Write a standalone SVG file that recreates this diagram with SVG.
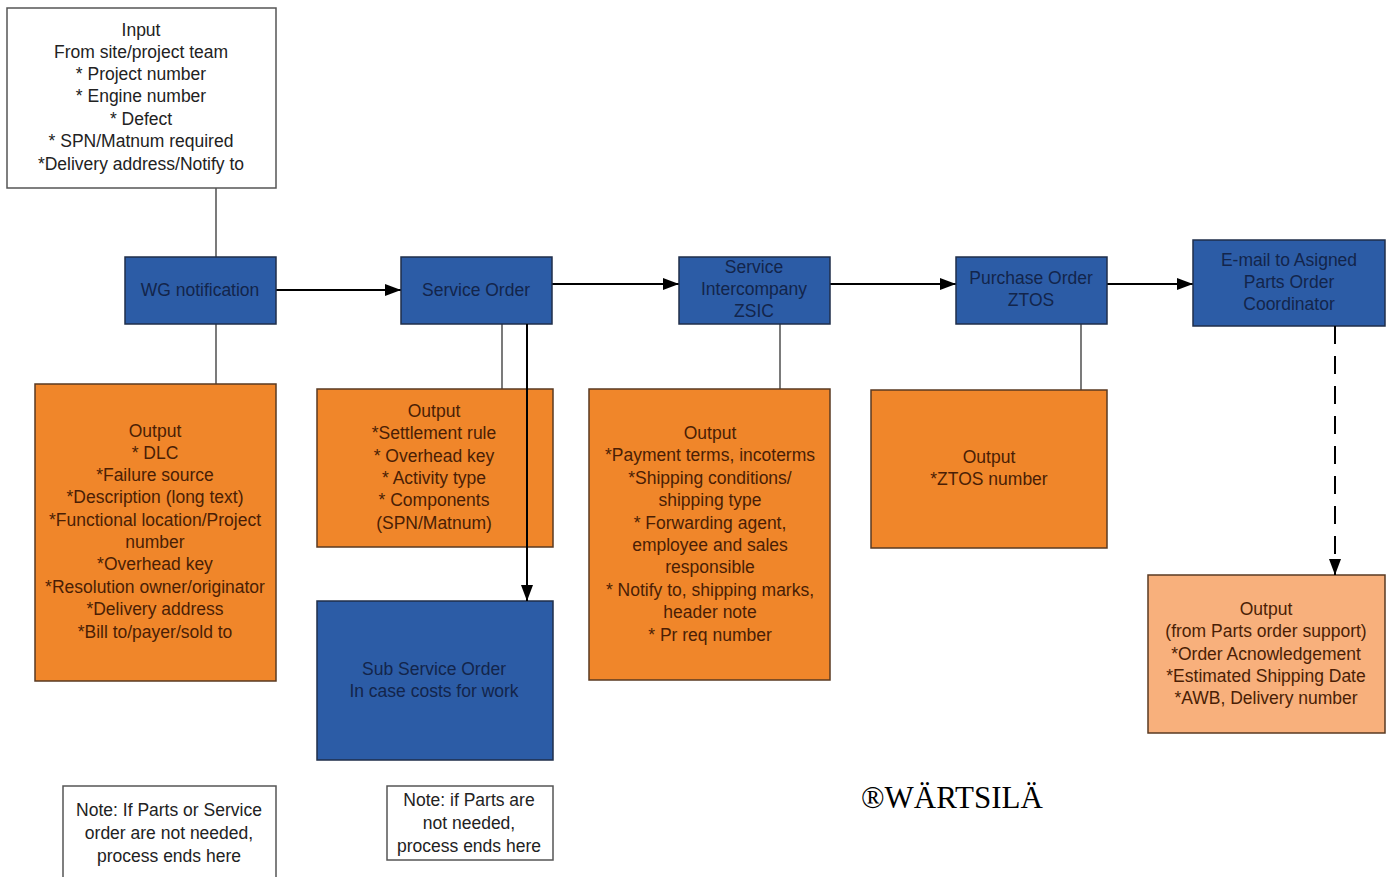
<svg xmlns="http://www.w3.org/2000/svg" width="1392" height="877" viewBox="0 0 1392 877">
<style>
text{font-family:"Liberation Sans",Arial,sans-serif;font-size:17.5px;text-anchor:middle}
.blue{fill:#2C5CA6;stroke:#1F2E4A;stroke-width:1.5}
.bt{fill:#13254B}
.orange{fill:#F0862A;stroke:#5A3A22;stroke-width:1.5}
.lorange{fill:#F8B07C;stroke:#5A3A22;stroke-width:1.5}
.ot{fill:#4A1E05}
.white{fill:#fff;stroke:#555;stroke-width:1.5}
.wt{fill:#222}
.ln{fill:none;stroke:#333;stroke-width:1.3}
.ar{fill:none;stroke:#000;stroke-width:2}
.brand{font-family:"Liberation Serif","Times New Roman",serif;font-size:31px;text-anchor:start;fill:#000}
</style>
<defs>
<marker id="ah" markerWidth="16" markerHeight="12" refX="16" refY="6" orient="auto" markerUnits="userSpaceOnUse">
<path d="M0,0 L16,6 L0,12 Z" fill="#000"/>
</marker>
</defs>
<rect width="1392" height="877" fill="#fff"/>

<g id="connectors">
<line class="ln" x1="216" y1="188" x2="216" y2="257"/>
<line class="ln" x1="216" y1="324" x2="216" y2="384"/>
<line class="ln" x1="502" y1="324" x2="502" y2="389"/>
<line class="ln" x1="780" y1="324" x2="780" y2="389"/>
<line class="ln" x1="1081" y1="324" x2="1081" y2="390"/>
<line class="ar" x1="276" y1="290" x2="401" y2="290" marker-end="url(#ah)"/>
<line class="ar" x1="552" y1="284" x2="679" y2="284" marker-end="url(#ah)"/>
<line class="ar" x1="830" y1="284" x2="956" y2="284" marker-end="url(#ah)"/>
<line class="ar" x1="1107" y1="284" x2="1193" y2="284" marker-end="url(#ah)"/>
</g>

<g id="input">
<rect class="white" x="7" y="8" width="269" height="180"/>
<text class="wt" x="141" y="36">Input</text>
<text class="wt" x="141" y="58">From site/project team</text>
<text class="wt" x="141" y="80">* Project number</text>
<text class="wt" x="141" y="102">* Engine number</text>
<text class="wt" x="141" y="125">* Defect</text>
<text class="wt" x="141" y="147">* SPN/Matnum required</text>
<text class="wt" x="141" y="170">*Delivery address/Notify to</text>
</g>

<g id="wg-notification">
<rect class="blue" x="125" y="257" width="151" height="67"/>
<text class="bt" x="200" y="296">WG notification</text>
</g>

<g id="service-order">
<rect class="blue" x="401" y="257" width="151" height="67"/>
<text class="bt" x="476" y="296">Service Order</text>
</g>

<g id="service-intercompany">
<rect class="blue" x="679" y="257" width="151" height="67"/>
<text class="bt" x="754" y="273">Service</text>
<text class="bt" x="754" y="295">Intercompany</text>
<text class="bt" x="754" y="317">ZSIC</text>
</g>

<g id="purchase-order">
<rect class="blue" x="956" y="257" width="151" height="67"/>
<text class="bt" x="1031" y="284">Purchase Order</text>
<text class="bt" x="1031" y="306">ZTOS</text>
</g>

<g id="email">
<rect class="blue" x="1193" y="240" width="192" height="86"/>
<text class="bt" x="1289" y="266">E-mail to Asigned</text>
<text class="bt" x="1289" y="288">Parts Order</text>
<text class="bt" x="1289" y="310">Coordinator</text>
</g>

<g id="wg-output">
<rect class="orange" x="35" y="384" width="241" height="297"/>
<text class="ot" x="155" y="437">Output</text>
<text class="ot" x="155" y="459">* DLC</text>
<text class="ot" x="155" y="481">*Failure source</text>
<text class="ot" x="155" y="503">*Description (long text)</text>
<text class="ot" x="155" y="526">*Functional location/Project</text>
<text class="ot" x="155" y="548">number</text>
<text class="ot" x="155" y="570">*Overhead key</text>
<text class="ot" x="155" y="593">*Resolution owner/originator</text>
<text class="ot" x="155" y="615">*Delivery address</text>
<text class="ot" x="155" y="638">*Bill to/payer/sold to</text>
</g>

<g id="so-output">
<rect class="orange" x="317" y="389" width="236" height="158"/>
<text class="ot" x="434" y="417">Output</text>
<text class="ot" x="434" y="439">*Settlement rule</text>
<text class="ot" x="434" y="462">* Overhead key</text>
<text class="ot" x="434" y="484">* Activity type</text>
<text class="ot" x="434" y="506">* Components</text>
<text class="ot" x="434" y="529">(SPN/Matnum)</text>
</g>

<g id="sub-service-order">
<rect class="blue" x="317" y="601" width="236" height="159"/>
<text class="bt" x="434" y="675">Sub Service Order</text>
<text class="bt" x="434" y="697">In case costs for work</text>
</g>

<g id="connector-sub">
<line class="ar" x1="527" y1="324" x2="527" y2="601" marker-end="url(#ah)"/>
</g>

<g id="zsic-output">
<rect class="orange" x="589" y="389" width="241" height="291"/>
<text class="ot" x="710" y="439">Output</text>
<text class="ot" x="710" y="461">*Payment terms, incoterms</text>
<text class="ot" x="710" y="484">*Shipping conditions/</text>
<text class="ot" x="710" y="506">shipping type</text>
<text class="ot" x="710" y="529">* Forwarding agent,</text>
<text class="ot" x="710" y="551">employee and sales</text>
<text class="ot" x="710" y="573">responsible</text>
<text class="ot" x="710" y="596">* Notify to, shipping marks,</text>
<text class="ot" x="710" y="618">header note</text>
<text class="ot" x="710" y="641">* Pr req number</text>
</g>

<g id="ztos-output">
<rect class="orange" x="871" y="390" width="236" height="158"/>
<text class="ot" x="989" y="463">Output</text>
<text class="ot" x="989" y="485">*ZTOS number</text>
</g>

<g id="parts-output">
<rect class="lorange" x="1148" y="575" width="237" height="158"/>
<text class="ot" x="1266" y="615">Output</text>
<text class="ot" x="1266" y="637">(from Parts order support)</text>
<text class="ot" x="1266" y="660">*Order Acnowledgement</text>
<text class="ot" x="1266" y="682">*Estimated Shipping Date</text>
<text class="ot" x="1266" y="704">*AWB, Delivery number</text>
</g>

<g id="connector-dashed">
<line x1="1335" y1="326" x2="1335" y2="575" stroke="#000" stroke-width="2" stroke-dasharray="18,12" marker-end="url(#ah)"/>
</g>

<g id="note1">
<rect class="white" x="63" y="786" width="213" height="100"/>
<text class="wt" x="169" y="816">Note: If Parts or Service</text>
<text class="wt" x="169" y="839">order are not needed,</text>
<text class="wt" x="169" y="862">process ends here</text>
</g>

<g id="note2">
<rect class="white" x="387" y="786" width="166" height="74"/>
<text class="wt" x="469" y="806">Note: if Parts are</text>
<text class="wt" x="469" y="829">not needed,</text>
<text class="wt" x="469" y="852">process ends here</text>
</g>

<text class="brand" x="861" y="808">®WÄRTSILÄ</text>
</svg>
